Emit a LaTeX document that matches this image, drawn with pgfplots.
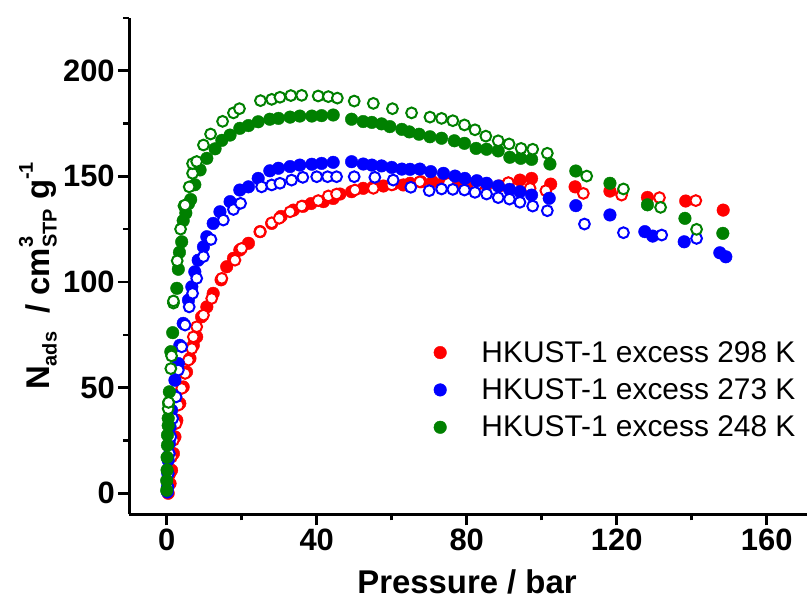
\documentclass[border=0pt]{standalone}
\usepackage{pgfplots}
\pgfplotsset{compat=1.18}
\usepackage{fontspec}
\setmainfont{Liberation Sans}
\definecolor{cR}{RGB}{255,0,0}
\definecolor{cB}{RGB}{0,0,255}
\definecolor{cG}{RGB}{0,128,0}
\newcommand{\lsub}[1]{\raisebox{-0.22em}{\fontsize{20}{20}\selectfont #1}}
\newcommand{\lsup}[1]{\raisebox{0.5em}{\fontsize{20}{20}\selectfont #1}}
\begin{document}
\begin{tikzpicture}
\useasboundingbox (0,0) rectangle (807bp,601bp);
\begin{axis}[
  at={(129.2bp,86.6bp)}, anchor=south west,
  scale only axis, width=678.75bp, height=496.6bp,
  xmin=-10, xmax=171, ymin=-10, ymax=225,
  axis x line*=bottom, axis y line*=left,
  axis line style={line width=3bp, -},
  tick align=outside, major tick length=11bp, minor tick length=6bp,
  tick style={black, line width=2.5bp},
  xtick={0,40,...,160}, minor xtick={20,60,100,140},
  ytick={0,50,...,200}, minor ytick={25,75,125,175,225},
  tick label style={font=\bfseries\fontsize{31}{31}\selectfont},
  /pgf/number format/assume math mode=true,
  xlabel={Pressure / bar},
  ylabel={N\lsub{ads}\ \ / cm\rlap{\lsup{3}}\lsub{STP} g\lsup{-1}},
  label style={font=\bfseries\fontsize{33}{33}\selectfont},
  xlabel style={at={(axis description cs:0.4977,-0.136)}, anchor=center},
  ylabel style={at={(axis description cs:-0.1345,0.48)}, anchor=center},
  legend style={at={(axis cs:71.2,48.9)}, anchor=west, draw=none, fill=none,
    font=\fontsize{30}{36}\selectfont, inner sep=0pt, row sep=11bp,
    /tikz/every odd column/.append style={column sep=33bp}},
  legend cell align=left,
]
% 298 K adsorption (filled)
\addplot[only marks, mark=*, color=cR, mark size=6.3bp] coordinates {
(0.4,0)(0.9,4.6)(1.3,10.9)(1.8,18.8)(2.2,26.7)(2.7,34.6)(3.5,42.5)(4.4,50.3)(5.3,57.4)(6.2,63.8)(7.1,70)(8,74)(9.3,83.5)(10.7,88.2)(12.4,94.6)(14.5,101)(16,107.2)(17.8,111.2)(19.5,115.1)(21.8,118.3)(24.9,123.8)(28,127.7)(30.5,131)(33.8,134)(36.4,135.8)(38.5,137.1)(41.8,138)(44.4,139.5)(46.2,141.6)(49.3,142.7)(52.4,144.3)(55.1,145)(57.8,145.4)(60.4,146.3)(63.1,145.9)(64.9,146.7)(67.8,147.4)(70.9,147.4)(73.8,147)(76.9,146.7)(80,146.7)(82.7,147)(85.3,145.9)(88.7,145.4)(91.1,146.7)(94.2,148.2)(97.3,149)(102.4,146.3)(108.9,145)(118.2,143)(128.2,140)(138.4,138.3)(148.4,134)
};
\addlegendentry{HKUST-1 excess 298 K}
\addplot[only marks, mark=*, forget plot, mark size=5.4bp, mark options={draw=cR, fill=white, line width=2bp}] coordinates {
(0.9,9.3)(1.3,17.2)(1.8,25.1)(2.5,33)(3.1,41.7)(4,49.6)(4.9,56.7)(5.8,63)(6.7,68.5)(7.1,74)(8,78.8)(9.8,84.3)(12,92.2)(14.7,101.7)(18.2,110.3)(20,115.9)(24.9,123.8)(28,128)(30,130.1)(32.9,133.2)(36,135.9)(40.4,138.5)(43.1,140.7)(45.3,141.6)(50.2,143.5)(55.1,144.3)(60,145.9)(67.5,147.4)(75.1,146.7)(82.7,145.9)(91.1,147)(96.9,144.3)(101.1,143.2)(111.1,141.9)(121.3,141.1)(131.4,139.9)(141.1,138.5)
};
% 273 K
\addplot[only marks, mark=*, color=cB, mark size=6.3bp] coordinates {
(0.2,0.6)(0.2,3)(0.3,9.3)(0.4,15.6)(0.7,23.5)(0.9,31.4)(1.3,39.3)(1.8,46.4)(2.2,53.5)(3.1,61.4)(3.5,70)(4.4,80.4)(5.8,91.4)(6.7,97.7)(7.5,104.8)(8.4,110.3)(9.8,116.6)(10.7,121.4)(12.4,127.7)(14.2,133.2)(16.9,138)(19.5,143.5)(21.8,145)(24.4,149)(27.5,152.6)(29.8,153.8)(32.9,154.6)(35.5,155.3)(38.7,155.7)(41.3,156.1)(44.4,156.6)(49.3,156.9)(52.4,155.8)(54.7,155.3)(57.3,154.9)(60,154.2)(62.7,153.4)(64.9,153.3)(67.5,153.4)(70.4,152.2)(73.8,151.4)(76.9,150.1)(79.5,149)(82.7,147.9)(85.3,146.7)(88.4,145.4)(91.4,143.8)(94.2,142.7)(97.3,141.1)(102,139.6)(109.1,136.1)(118.2,131.7)(127.5,123.8)(129.6,121.7)(138,119)(147.5,113.8)(149.1,111.9)
};
\addlegendentry{HKUST-1 excess 273 K}
\addplot[only marks, mark=*, forget plot, mark size=5.4bp, mark options={draw=cB, fill=white, line width=2bp}] coordinates {
(0.3,3)(0.4,9.3)(0.7,18.8)(1.1,26.7)(1.6,35.4)(2.5,45.6)(3.1,58.3)(4,69.3)(4.9,79.6)(6,88.2)(6.9,94.6)(8,101.7)(9.8,112)(11.8,120.1)(15.1,129.3)(17.8,134.3)(19.7,137.2)(25.3,145)(28,145.9)(30.2,146.7)(33.3,148.2)(36.3,149.5)(40,149.8)(42.9,149.8)(45.3,149.8)(50,149.8)(55.5,149.5)(60.4,148.2)(65.1,144.8)(70,143.2)(73.3,144)(76.3,143.8)(79.4,143.5)(82.2,142.4)(85.3,141.6)(88.4,139.9)(91.4,139.2)(94.2,137.7)(97.6,135.9)(101.5,133.7)(111.4,127.4)(121.8,123.3)(132,122.2)(141.3,120.6)
};
% 248 K
\addplot[only marks, mark=*, color=cG, mark size=6.3bp] coordinates {
(0,1.4)(0,6)(0.1,11)(0.1,17)(0.2,22.7)(0.2,27.5)(0.4,32)(0.4,35.5)(0.5,42.6)(0.7,48)(1.1,67)(1.6,76)(2.7,97)(3.1,106)(3.4,114)(4,119)(4.4,129)(5.1,132.6)(5.8,137)(6.4,139)(7.5,146)(8.9,153)(10.7,158.5)(12.9,163)(14.7,167)(16.9,169.5)(19.5,172.7)(21.8,174)(24.4,175.8)(27.5,177)(29.8,177.4)(32.9,178)(35.5,178.5)(38.7,178.5)(41.3,178.7)(44.4,179)(49.3,177)(52.4,175.9)(54.7,175.5)(57.3,174.8)(59.5,173.5)(62.7,172.2)(64.7,171)(67.3,169.9)(70.2,168.7)(73.3,168)(76.7,166.8)(79.4,165.6)(82.5,163.2)(85.3,162.8)(88.4,162)(91.5,159)(94.4,158.5)(97.3,158)(102.2,155.8)(109.1,152.5)(118.2,146.7)(128.2,136.5)(138.2,130.1)(148.3,123)
};
\addlegendentry{HKUST-1 excess 248 K}
\addplot[only marks, mark=*, forget plot, mark size=5.4bp, mark options={draw=cG, fill=white, line width=2bp}] coordinates {
(0.4,40)(0.5,43)(1.1,59)(1.3,65)(1.8,90)(1.8,91)(2.8,110)(3.7,125)(4.6,136)(4.9,136.4)(6,145)(6.9,151.4)(6.9,156)(8,157)(9.8,164.8)(11.7,170)(14.9,176)(17.8,180)(19.4,182)(25,185.8)(28,186.4)(30.2,187.4)(33.1,188.2)(36,188.3)(40.4,188)(43.1,187.7)(45.5,187)(50,185.6)(55.1,184.5)(60.2,182)(65.3,180)(70.2,178)(73.3,177.4)(76.3,176.3)(79.4,174.3)(82.2,172)(85.1,169)(88.4,166.8)(91.3,165.3)(94.5,163.2)(97.6,162.8)(101.5,160.9)(112,150.1)(121.8,144)(131.7,135.3)(141.3,124.9)
};
\end{axis}
\end{tikzpicture}
\end{document}
